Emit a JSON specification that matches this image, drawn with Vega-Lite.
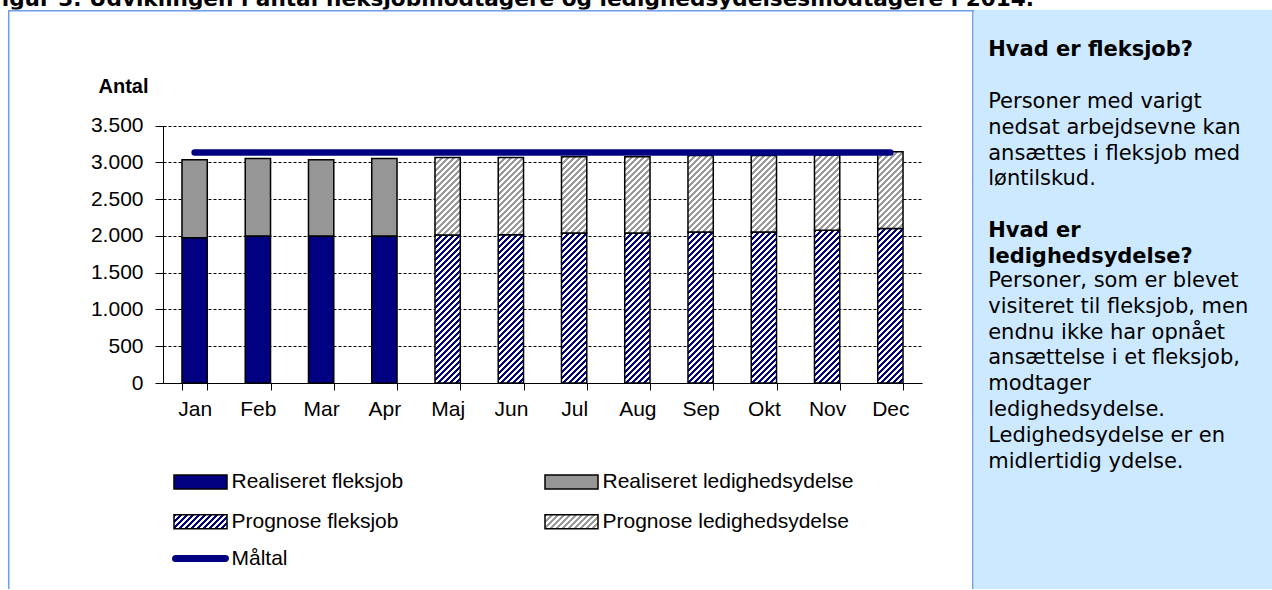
{
  "$schema": "https://vega.github.io/schema/vega-lite/v6.json",
  "padding": 0,
  "background": "white",
  "spacing": 0,
  "bounds": "flush",
  "config": {
    "view": {"stroke": null},
    "locale": {"number": {"decimal": ",", "thousands": ".", "grouping": [3], "currency": ["", " kr."]}},
    "font": "Liberation Sans"
  },
  "params": [
    {"name": "stopsB", "value": [
      {"offset":0,"color":"#000080"},{"offset":0.015625,"color":"#000080"},{"offset":0.015625,"color":"#ffffff"},{"offset":0.03125,"color":"#ffffff"},
      {"offset":0.03125,"color":"#000080"},{"offset":0.046875,"color":"#000080"},{"offset":0.046875,"color":"#ffffff"},{"offset":0.0625,"color":"#ffffff"},
      {"offset":0.0625,"color":"#000080"},{"offset":0.078125,"color":"#000080"},{"offset":0.078125,"color":"#ffffff"},{"offset":0.09375,"color":"#ffffff"},
      {"offset":0.09375,"color":"#000080"},{"offset":0.109375,"color":"#000080"},{"offset":0.109375,"color":"#ffffff"},{"offset":0.125,"color":"#ffffff"},
      {"offset":0.125,"color":"#000080"},{"offset":0.140625,"color":"#000080"},{"offset":0.140625,"color":"#ffffff"},{"offset":0.15625,"color":"#ffffff"},
      {"offset":0.15625,"color":"#000080"},{"offset":0.171875,"color":"#000080"},{"offset":0.171875,"color":"#ffffff"},{"offset":0.1875,"color":"#ffffff"},
      {"offset":0.1875,"color":"#000080"},{"offset":0.203125,"color":"#000080"},{"offset":0.203125,"color":"#ffffff"},{"offset":0.21875,"color":"#ffffff"},
      {"offset":0.21875,"color":"#000080"},{"offset":0.234375,"color":"#000080"},{"offset":0.234375,"color":"#ffffff"},{"offset":0.25,"color":"#ffffff"},
      {"offset":0.25,"color":"#000080"},{"offset":0.265625,"color":"#000080"},{"offset":0.265625,"color":"#ffffff"},{"offset":0.28125,"color":"#ffffff"},
      {"offset":0.28125,"color":"#000080"},{"offset":0.296875,"color":"#000080"},{"offset":0.296875,"color":"#ffffff"},{"offset":0.3125,"color":"#ffffff"},
      {"offset":0.3125,"color":"#000080"},{"offset":0.328125,"color":"#000080"},{"offset":0.328125,"color":"#ffffff"},{"offset":0.34375,"color":"#ffffff"},
      {"offset":0.34375,"color":"#000080"},{"offset":0.359375,"color":"#000080"},{"offset":0.359375,"color":"#ffffff"},{"offset":0.375,"color":"#ffffff"},
      {"offset":0.375,"color":"#000080"},{"offset":0.390625,"color":"#000080"},{"offset":0.390625,"color":"#ffffff"},{"offset":0.40625,"color":"#ffffff"},
      {"offset":0.40625,"color":"#000080"},{"offset":0.421875,"color":"#000080"},{"offset":0.421875,"color":"#ffffff"},{"offset":0.4375,"color":"#ffffff"},
      {"offset":0.4375,"color":"#000080"},{"offset":0.453125,"color":"#000080"},{"offset":0.453125,"color":"#ffffff"},{"offset":0.46875,"color":"#ffffff"},
      {"offset":0.46875,"color":"#000080"},{"offset":0.484375,"color":"#000080"},{"offset":0.484375,"color":"#ffffff"},{"offset":0.5,"color":"#ffffff"},
      {"offset":0.5,"color":"#000080"},{"offset":0.515625,"color":"#000080"},{"offset":0.515625,"color":"#ffffff"},{"offset":0.53125,"color":"#ffffff"},
      {"offset":0.53125,"color":"#000080"},{"offset":0.546875,"color":"#000080"},{"offset":0.546875,"color":"#ffffff"},{"offset":0.5625,"color":"#ffffff"},
      {"offset":0.5625,"color":"#000080"},{"offset":0.578125,"color":"#000080"},{"offset":0.578125,"color":"#ffffff"},{"offset":0.59375,"color":"#ffffff"},
      {"offset":0.59375,"color":"#000080"},{"offset":0.609375,"color":"#000080"},{"offset":0.609375,"color":"#ffffff"},{"offset":0.625,"color":"#ffffff"},
      {"offset":0.625,"color":"#000080"},{"offset":0.640625,"color":"#000080"},{"offset":0.640625,"color":"#ffffff"},{"offset":0.65625,"color":"#ffffff"},
      {"offset":0.65625,"color":"#000080"},{"offset":0.671875,"color":"#000080"},{"offset":0.671875,"color":"#ffffff"},{"offset":0.6875,"color":"#ffffff"},
      {"offset":0.6875,"color":"#000080"},{"offset":0.703125,"color":"#000080"},{"offset":0.703125,"color":"#ffffff"},{"offset":0.71875,"color":"#ffffff"},
      {"offset":0.71875,"color":"#000080"},{"offset":0.734375,"color":"#000080"},{"offset":0.734375,"color":"#ffffff"},{"offset":0.75,"color":"#ffffff"},
      {"offset":0.75,"color":"#000080"},{"offset":0.765625,"color":"#000080"},{"offset":0.765625,"color":"#ffffff"},{"offset":0.78125,"color":"#ffffff"},
      {"offset":0.78125,"color":"#000080"},{"offset":0.796875,"color":"#000080"},{"offset":0.796875,"color":"#ffffff"},{"offset":0.8125,"color":"#ffffff"},
      {"offset":0.8125,"color":"#000080"},{"offset":0.828125,"color":"#000080"},{"offset":0.828125,"color":"#ffffff"},{"offset":0.84375,"color":"#ffffff"},
      {"offset":0.84375,"color":"#000080"},{"offset":0.859375,"color":"#000080"},{"offset":0.859375,"color":"#ffffff"},{"offset":0.875,"color":"#ffffff"},
      {"offset":0.875,"color":"#000080"},{"offset":0.890625,"color":"#000080"},{"offset":0.890625,"color":"#ffffff"},{"offset":0.90625,"color":"#ffffff"},
      {"offset":0.90625,"color":"#000080"},{"offset":0.921875,"color":"#000080"},{"offset":0.921875,"color":"#ffffff"},{"offset":0.9375,"color":"#ffffff"},
      {"offset":0.9375,"color":"#000080"},{"offset":0.953125,"color":"#000080"},{"offset":0.953125,"color":"#ffffff"},{"offset":0.96875,"color":"#ffffff"},
      {"offset":0.96875,"color":"#000080"},{"offset":0.984375,"color":"#000080"},{"offset":0.984375,"color":"#ffffff"},{"offset":1,"color":"#ffffff"}
    ]},
    {"name": "stopsG", "value": [
      {"offset":0,"color":"#9a9a9a"},{"offset":0.015625,"color":"#9a9a9a"},{"offset":0.015625,"color":"#ffffff"},{"offset":0.03125,"color":"#ffffff"},
      {"offset":0.03125,"color":"#9a9a9a"},{"offset":0.046875,"color":"#9a9a9a"},{"offset":0.046875,"color":"#ffffff"},{"offset":0.0625,"color":"#ffffff"},
      {"offset":0.0625,"color":"#9a9a9a"},{"offset":0.078125,"color":"#9a9a9a"},{"offset":0.078125,"color":"#ffffff"},{"offset":0.09375,"color":"#ffffff"},
      {"offset":0.09375,"color":"#9a9a9a"},{"offset":0.109375,"color":"#9a9a9a"},{"offset":0.109375,"color":"#ffffff"},{"offset":0.125,"color":"#ffffff"},
      {"offset":0.125,"color":"#9a9a9a"},{"offset":0.140625,"color":"#9a9a9a"},{"offset":0.140625,"color":"#ffffff"},{"offset":0.15625,"color":"#ffffff"},
      {"offset":0.15625,"color":"#9a9a9a"},{"offset":0.171875,"color":"#9a9a9a"},{"offset":0.171875,"color":"#ffffff"},{"offset":0.1875,"color":"#ffffff"},
      {"offset":0.1875,"color":"#9a9a9a"},{"offset":0.203125,"color":"#9a9a9a"},{"offset":0.203125,"color":"#ffffff"},{"offset":0.21875,"color":"#ffffff"},
      {"offset":0.21875,"color":"#9a9a9a"},{"offset":0.234375,"color":"#9a9a9a"},{"offset":0.234375,"color":"#ffffff"},{"offset":0.25,"color":"#ffffff"},
      {"offset":0.25,"color":"#9a9a9a"},{"offset":0.265625,"color":"#9a9a9a"},{"offset":0.265625,"color":"#ffffff"},{"offset":0.28125,"color":"#ffffff"},
      {"offset":0.28125,"color":"#9a9a9a"},{"offset":0.296875,"color":"#9a9a9a"},{"offset":0.296875,"color":"#ffffff"},{"offset":0.3125,"color":"#ffffff"},
      {"offset":0.3125,"color":"#9a9a9a"},{"offset":0.328125,"color":"#9a9a9a"},{"offset":0.328125,"color":"#ffffff"},{"offset":0.34375,"color":"#ffffff"},
      {"offset":0.34375,"color":"#9a9a9a"},{"offset":0.359375,"color":"#9a9a9a"},{"offset":0.359375,"color":"#ffffff"},{"offset":0.375,"color":"#ffffff"},
      {"offset":0.375,"color":"#9a9a9a"},{"offset":0.390625,"color":"#9a9a9a"},{"offset":0.390625,"color":"#ffffff"},{"offset":0.40625,"color":"#ffffff"},
      {"offset":0.40625,"color":"#9a9a9a"},{"offset":0.421875,"color":"#9a9a9a"},{"offset":0.421875,"color":"#ffffff"},{"offset":0.4375,"color":"#ffffff"},
      {"offset":0.4375,"color":"#9a9a9a"},{"offset":0.453125,"color":"#9a9a9a"},{"offset":0.453125,"color":"#ffffff"},{"offset":0.46875,"color":"#ffffff"},
      {"offset":0.46875,"color":"#9a9a9a"},{"offset":0.484375,"color":"#9a9a9a"},{"offset":0.484375,"color":"#ffffff"},{"offset":0.5,"color":"#ffffff"},
      {"offset":0.5,"color":"#9a9a9a"},{"offset":0.515625,"color":"#9a9a9a"},{"offset":0.515625,"color":"#ffffff"},{"offset":0.53125,"color":"#ffffff"},
      {"offset":0.53125,"color":"#9a9a9a"},{"offset":0.546875,"color":"#9a9a9a"},{"offset":0.546875,"color":"#ffffff"},{"offset":0.5625,"color":"#ffffff"},
      {"offset":0.5625,"color":"#9a9a9a"},{"offset":0.578125,"color":"#9a9a9a"},{"offset":0.578125,"color":"#ffffff"},{"offset":0.59375,"color":"#ffffff"},
      {"offset":0.59375,"color":"#9a9a9a"},{"offset":0.609375,"color":"#9a9a9a"},{"offset":0.609375,"color":"#ffffff"},{"offset":0.625,"color":"#ffffff"},
      {"offset":0.625,"color":"#9a9a9a"},{"offset":0.640625,"color":"#9a9a9a"},{"offset":0.640625,"color":"#ffffff"},{"offset":0.65625,"color":"#ffffff"},
      {"offset":0.65625,"color":"#9a9a9a"},{"offset":0.671875,"color":"#9a9a9a"},{"offset":0.671875,"color":"#ffffff"},{"offset":0.6875,"color":"#ffffff"},
      {"offset":0.6875,"color":"#9a9a9a"},{"offset":0.703125,"color":"#9a9a9a"},{"offset":0.703125,"color":"#ffffff"},{"offset":0.71875,"color":"#ffffff"},
      {"offset":0.71875,"color":"#9a9a9a"},{"offset":0.734375,"color":"#9a9a9a"},{"offset":0.734375,"color":"#ffffff"},{"offset":0.75,"color":"#ffffff"},
      {"offset":0.75,"color":"#9a9a9a"},{"offset":0.765625,"color":"#9a9a9a"},{"offset":0.765625,"color":"#ffffff"},{"offset":0.78125,"color":"#ffffff"},
      {"offset":0.78125,"color":"#9a9a9a"},{"offset":0.796875,"color":"#9a9a9a"},{"offset":0.796875,"color":"#ffffff"},{"offset":0.8125,"color":"#ffffff"},
      {"offset":0.8125,"color":"#9a9a9a"},{"offset":0.828125,"color":"#9a9a9a"},{"offset":0.828125,"color":"#ffffff"},{"offset":0.84375,"color":"#ffffff"},
      {"offset":0.84375,"color":"#9a9a9a"},{"offset":0.859375,"color":"#9a9a9a"},{"offset":0.859375,"color":"#ffffff"},{"offset":0.875,"color":"#ffffff"},
      {"offset":0.875,"color":"#9a9a9a"},{"offset":0.890625,"color":"#9a9a9a"},{"offset":0.890625,"color":"#ffffff"},{"offset":0.90625,"color":"#ffffff"},
      {"offset":0.90625,"color":"#9a9a9a"},{"offset":0.921875,"color":"#9a9a9a"},{"offset":0.921875,"color":"#ffffff"},{"offset":0.9375,"color":"#ffffff"},
      {"offset":0.9375,"color":"#9a9a9a"},{"offset":0.953125,"color":"#9a9a9a"},{"offset":0.953125,"color":"#ffffff"},{"offset":0.96875,"color":"#ffffff"},
      {"offset":0.96875,"color":"#9a9a9a"},{"offset":0.984375,"color":"#9a9a9a"},{"offset":0.984375,"color":"#ffffff"},{"offset":1,"color":"#ffffff"}
    ]}
  ],
  "datasets": {
    "bars": [
      {"month": "Jan", "kind": "fleksjob", "status": "Realiseret", "serie": "Realiseret fleksjob", "value": 1977},
      {"month": "Jan", "kind": "ledighedsydelse", "status": "Realiseret", "serie": "Realiseret ledighedsydelse", "value": 1059},
      {"month": "Feb", "kind": "fleksjob", "status": "Realiseret", "serie": "Realiseret fleksjob", "value": 2000},
      {"month": "Feb", "kind": "ledighedsydelse", "status": "Realiseret", "serie": "Realiseret ledighedsydelse", "value": 1055},
      {"month": "Mar", "kind": "fleksjob", "status": "Realiseret", "serie": "Realiseret fleksjob", "value": 2000},
      {"month": "Mar", "kind": "ledighedsydelse", "status": "Realiseret", "serie": "Realiseret ledighedsydelse", "value": 1036},
      {"month": "Apr", "kind": "fleksjob", "status": "Realiseret", "serie": "Realiseret fleksjob", "value": 2000},
      {"month": "Apr", "kind": "ledighedsydelse", "status": "Realiseret", "serie": "Realiseret ledighedsydelse", "value": 1055},
      {"month": "Maj", "kind": "fleksjob", "status": "Prognose", "serie": "Prognose fleksjob", "value": 2014},
      {"month": "Maj", "kind": "ledighedsydelse", "status": "Prognose", "serie": "Prognose ledighedsydelse", "value": 1054},
      {"month": "Jun", "kind": "fleksjob", "status": "Prognose", "serie": "Prognose fleksjob", "value": 2018},
      {"month": "Jun", "kind": "ledighedsydelse", "status": "Prognose", "serie": "Prognose ledighedsydelse", "value": 1050},
      {"month": "Jul", "kind": "fleksjob", "status": "Prognose", "serie": "Prognose fleksjob", "value": 2041},
      {"month": "Jul", "kind": "ledighedsydelse", "status": "Prognose", "serie": "Prognose ledighedsydelse", "value": 1036},
      {"month": "Aug", "kind": "fleksjob", "status": "Prognose", "serie": "Prognose fleksjob", "value": 2041},
      {"month": "Aug", "kind": "ledighedsydelse", "status": "Prognose", "serie": "Prognose ledighedsydelse", "value": 1036},
      {"month": "Sep", "kind": "fleksjob", "status": "Prognose", "serie": "Prognose fleksjob", "value": 2055},
      {"month": "Sep", "kind": "ledighedsydelse", "status": "Prognose", "serie": "Prognose ledighedsydelse", "value": 1040},
      {"month": "Okt", "kind": "fleksjob", "status": "Prognose", "serie": "Prognose fleksjob", "value": 2055},
      {"month": "Okt", "kind": "ledighedsydelse", "status": "Prognose", "serie": "Prognose ledighedsydelse", "value": 1040},
      {"month": "Nov", "kind": "fleksjob", "status": "Prognose", "serie": "Prognose fleksjob", "value": 2077},
      {"month": "Nov", "kind": "ledighedsydelse", "status": "Prognose", "serie": "Prognose ledighedsydelse", "value": 1025},
      {"month": "Dec", "kind": "fleksjob", "status": "Prognose", "serie": "Prognose fleksjob", "value": 2100},
      {"month": "Dec", "kind": "ledighedsydelse", "status": "Prognose", "serie": "Prognose ledighedsydelse", "value": 1045}
    ],
    "maal": [
      {"month": "Jan", "value": 3135}, {"month": "Feb", "value": 3135}, {"month": "Mar", "value": 3135},
      {"month": "Apr", "value": 3135}, {"month": "Maj", "value": 3135}, {"month": "Jun", "value": 3135},
      {"month": "Jul", "value": 3135}, {"month": "Aug", "value": 3135}, {"month": "Sep", "value": 3135},
      {"month": "Okt", "value": 3135}, {"month": "Nov", "value": 3135}, {"month": "Dec", "value": 3135}
    ]
  },
  "vconcat": [
    {
      "width": 1272, "height": 9.5,
      "data": {"values": [{"t": "Figur 3. Udviklingen i antal fleksjobmodtagere og ledighedsydelsesmodtagere i 2014."}]},
      "mark": {"type": "text", "clip": true, "align": "left", "baseline": "alphabetic", "font": "DejaVu Sans", "fontWeight": "bold", "fontSize": 21.6, "color": "black"},
      "encoding": {"text": {"field": "t"}, "x": {"value": -13}, "y": {"value": 6}}
    },
    {
      "spacing": 0, "bounds": "flush",
      "hconcat": [
        {"width": 7.5, "height": 1.5, "data": {"values": []}, "mark": "rect"},
        {"width": 1264.5, "height": 1.5, "data": {"values": []}, "mark": "rect", "view": {"fill": "#6d9ef2", "stroke": null}}
      ]
    },
    {
      "spacing": 0, "bounds": "flush",
      "hconcat": [
        {"width": 7.5, "height": 579, "data": {"values": []}, "mark": "rect"},
        {"width": 1.5, "height": 579, "data": {"values": []}, "mark": "rect", "view": {"fill": "#6d9ef2", "stroke": null}},
        {"width": 153, "height": 579, "data": {"values": []}, "mark": "rect"},
        {
          "width": 759, "height": 579,
          "data": {"name": "bars"},
          "encoding": {
            "x": {
              "field": "month", "type": "ordinal",
              "sort": ["Jan", "Feb", "Mar", "Apr", "Maj", "Jun", "Jul", "Aug", "Sep", "Okt", "Nov", "Dec"],
              "scale": {"paddingInner": 0.6, "paddingOuter": 0.3},
              "axis": {"title": null, "offset": -206, "tickBand": "extent", "labelAngle": 0, "grid": false, "domainColor": "black", "domainWidth": 1, "tickColor": "black", "tickSize": 7, "labelFont": "Liberation Sans", "labelFontSize": 21, "labelColor": "black", "labelPadding": 8, "labelOverlap": false}
            },
            "y": {
              "field": "value", "type": "quantitative",
              "scale": {"domain": [0, 3500], "nice": false, "range": [373, 115.7]},
              "axis": {"title": "Antal", "titleAngle": 0, "titleAlign": "left", "titleBaseline": "alphabetic", "titleX": -65, "titleY": 82, "titleFont": "Liberation Sans", "titleFontSize": 20, "titleFontWeight": "bold", "titleColor": "black", "values": [0, 500, 1000, 1500, 2000, 2500, 3000, 3500], "format": ",.0f", "grid": true, "gridColor": "black", "gridDash": [3, 2], "gridWidth": 1, "gridOpacity": 1, "domainColor": "black", "tickColor": "black", "tickSize": 8, "labelFont": "Liberation Sans", "labelFontSize": 21, "labelColor": "black", "labelPadding": 12}
            }
          },
          "layer": [
            {
              "transform": [{"filter": "datum.status == 'Realiseret'"}],
              "mark": {"type": "bar", "stroke": "black", "strokeWidth": 1.5},
              "encoding": {
                "order": {"field": "kind", "sort": "ascending"},
                "fill": {
                  "field": "serie", "type": "nominal",
                  "scale": {
                    "domain": ["Realiseret fleksjob", "Realiseret ledighedsydelse", "Prognose fleksjob", "Prognose ledighedsydelse"],
                    "range": ["#000080", "#969696",
                      {"expr": "{gradient: 'linear', x1: 0, y1: 0, x2: 3.386, y2: 0.8945, stops: stopsB}"},
                      {"expr": "{gradient: 'linear', x1: 0, y1: 0, x2: 3.386, y2: 0.8945, stops: stopsG}"}]
                  },
                  "legend": {
                    "title": null, "orient": "none", "legendX": 190, "legendY": 471.3, "direction": "horizontal", "columns": 2, "columnPadding": 137, "rowPadding": 18, "padding": 0,
                    "symbolType": "M-3.786,-1H3.786V1H-3.786Z", "symbolSize": 196, "symbolStrokeColor": "black", "symbolStrokeWidth": 1.5, "symbolOpacity": 1,
                    "labelOffset": 20.5, "labelFont": "Liberation Sans", "labelFontSize": 21, "labelColor": "black", "labelLimit": 0
                  }
                }
              }
            },
            {
              "transform": [{"filter": "datum.status == 'Prognose'"}],
              "mark": {
                "type": "bar", "stroke": "black", "strokeWidth": 1.5,
                "fill": {"expr": "{gradient: 'linear', x1: 0, y1: 0, x2: 192*25.3/(640.09 + pow(datum.value*0.073514, 2)), y2: 192*datum.value*0.073514/(640.09 + pow(datum.value*0.073514, 2)), stops: datum.kind == 'fleksjob' ? stopsB : stopsG}"}
              },
              "encoding": {"order": {"field": "kind", "sort": "ascending"}, "detail": {"field": "kind"}}
            },
            {
              "data": {"name": "maal"},
              "mark": {"type": "line", "strokeWidth": 6.5, "strokeCap": "round"},
              "encoding": {
                "stroke": {
                  "datum": "Måltal", "type": "nominal",
                  "scale": {"domain": ["Måltal"], "range": ["#000080"]},
                  "legend": {
                    "title": null, "orient": "none", "legendX": 190, "legendY": 548, "padding": 0,
                    "symbolType": "M-3.571,-0.25H3.571A0.25,0.25 0 0 1 3.571,0.25H-3.571A0.25,0.25 0 0 1 -3.571,-0.25Z", "symbolSize": 196, "symbolStrokeWidth": 3.5, "symbolFillColor": "#000080", "symbolOpacity": 1,
                    "labelOffset": 20.5, "labelFont": "Liberation Sans", "labelFontSize": 21, "labelColor": "black", "labelLimit": 0
                  }
                }
              }
            }
          ]
        },
        {"width": 50, "height": 579, "data": {"values": []}, "mark": "rect"},
        {"width": 1.5, "height": 579, "data": {"values": []}, "mark": "rect", "view": {"fill": "#6d9ef2", "stroke": null}},
        {
          "width": 299.5, "height": 579,
          "view": {"fill": "#cce9ff", "stroke": null},
          "layer": [
            {
              "data": {"values": [{"t": ["Hvad er fleksjob?"]}]},
              "mark": {"type": "text", "align": "left", "baseline": "alphabetic", "font": "DejaVu Sans", "fontSize": 21, "fontWeight": "bold", "lineHeight": 25.8, "color": "black"},
              "encoding": {"text": {"field": "t"}, "x": {"value": 14.2}, "y": {"value": 45.7}}
            },
            {
              "data": {"values": [{"t": ["Personer med varigt", "nedsat arbejdsevne kan", "ansættes i fleksjob med", "løntilskud."]}]},
              "mark": {"type": "text", "align": "left", "baseline": "alphabetic", "font": "DejaVu Sans", "fontSize": 21, "lineHeight": 25.8, "color": "black"},
              "encoding": {"text": {"field": "t"}, "x": {"value": 14.2}, "y": {"value": 98}}
            },
            {
              "data": {"values": [{"t": ["Hvad er", "ledighedsydelse?"]}]},
              "mark": {"type": "text", "align": "left", "baseline": "alphabetic", "font": "DejaVu Sans", "fontSize": 21, "fontWeight": "bold", "lineHeight": 25.8, "color": "black"},
              "encoding": {"text": {"field": "t"}, "x": {"value": 14.2}, "y": {"value": 227}}
            },
            {
              "data": {"values": [{"t": ["Personer, som er blevet", "visiteret til fleksjob, men", "endnu ikke har opnået", "ansættelse i et fleksjob,", "modtager", "ledighedsydelse.", "Ledighedsydelse er en", "midlertidig ydelse."]}]},
              "mark": {"type": "text", "align": "left", "baseline": "alphabetic", "font": "DejaVu Sans", "fontSize": 21, "lineHeight": 25.8, "color": "black"},
              "encoding": {"text": {"field": "t"}, "x": {"value": 14.2}, "y": {"value": 277}}
            }
          ]
        }
      ]
    }
  ]
}
